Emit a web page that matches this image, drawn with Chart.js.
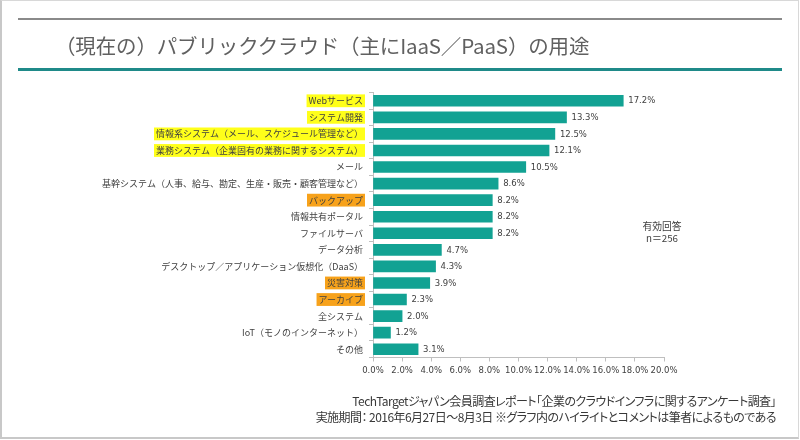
<!DOCTYPE html>
<html>
<head>
<meta charset="utf-8">
<script src="https://cdn.jsdelivr.net/npm/chart.js@4/dist/chart.umd.min.js"></script>
<style>
  body { margin: 0; background: #fff; }
  #frame {
    position: absolute; left: 0; top: 0; width: 796px; height: 436px;
    border-left: 2px solid #c8c8c8; border-bottom: 2px solid #c8c8c8;
    border-top: 1px solid #d8d8d8; border-right: 1px solid #d8d8d8;
  }
  #wrap { position: absolute; left: 0; top: 0; width: 800px; height: 440px; }
  .rule { position: absolute; left: 18px; width: 764px; }
  #grayRule { top: 18px; height: 2px; background: #8a8a8a; }
  #tealRule { top: 68px; height: 3px; background: #1f8a89; }
  #title {
    position: absolute; left: 55px; top: 30px; font-family: 'Noto Sans CJK JP';
    font-size: 20.5px; letter-spacing: -0.15px; color: #606060; white-space: nowrap; line-height: 30px;
  }
  #note {
    position: absolute; left: 630px; top: 220px; width: 64px; text-align: center;
    font-family: 'Noto Sans CJK JP'; font-size: 9.8px; line-height: 12px; color: #404040;
  }
  #footer {
    position: absolute; right: 24px; top: 393px; text-align: right;
    font-family: 'Noto Sans CJK JP'; font-size: 12px; letter-spacing: -0.55px; line-height: 16px; color: #383838;
    white-space: nowrap; font-feature-settings: 'palt';
  }
</style>
</head>
<body>
<div id="frame"></div>
<div id="wrap"><canvas id="bars"></canvas></div>
<div class="rule" id="grayRule"></div>
<div class="rule" id="tealRule"></div>
<div id="title">（現在の）パブリッククラウド（主にIaaS／PaaS）の用途</div>
<div id="note">有効回答<br>n＝256</div>
<div id="footer">TechTargetジャパン会員調査レポート「企業のクラウドインフラに関するアンケート調査」<br>実施期間： 2016年6月27日～8月3日 ※グラフ内のハイライトとコメントは筆者によるものである</div>
<script>
// 用途と回答率(%)
const categories = [
    'Webサービス',
    'システム開発',
    '情報系システム（メール、スケジュール管理など）',
    '業務システム（企業固有の業務に関するシステム）',
    'メール',
    '基幹システム（人事、給与、勘定、生産・販売・顧客管理など）',
    'バックアップ',
    '情報共有ポータル',
    'ファイルサーバ',
    'データ分析',
    'デスクトップ／アプリケーション仮想化（DaaS）',
    '災害対策',
    'アーカイブ',
    '全システム',
    'IoT（モノのインターネット）',
    'その他'
];
const values = [17.2, 13.3, 12.5, 12.1, 10.5, 8.6, 8.2, 8.2, 8.2, 4.7, 4.3, 3.9, 2.3, 2.0, 1.2, 3.1];
const xMin = 0;
const xMax = 20;
const xStep = 2;

// 筆者のハイライト (Y=黄, O=オレンジ)
const marks = ['Y', 'Y', 'Y', 'Y', '', '', 'O', '', '', '', '', 'O', 'O', '', '', ''];
const markColor = { Y: '#ffff1a', O: '#f7a21b', '': 'rgba(0,0,0,0)' };

const valueLabels = {
    id: 'valueLabels',
    afterDatasetsDraw(chart) {
        const ctx = chart.ctx;
        const meta = chart.getDatasetMeta(0);
        ctx.save();
        ctx.font = '8.5px "DejaVu Sans"';
        ctx.fillStyle = '#404040';
        ctx.textBaseline = 'middle';
        meta.data.forEach((bar, i) => {
            ctx.fillText(values[i].toFixed(1) + '%', bar.x + 5, bar.y + 0.5);
        });
        ctx.restore();
    }
};

const ctx = document.getElementById('bars').getContext('2d');
const chart = new Chart(ctx, {
    type: 'bar',
    data: {
        labels: categories,
        datasets: [{
            data: values,
            backgroundColor: '#12a293',
            borderWidth: 0,
            barThickness: 11
        }]
    },
    options: {
        indexAxis: 'y',
        responsive: true,
        maintainAspectRatio: false,
        animation: false,
        layout: { padding: { left: 0, top: 92.5, right: 136, bottom: 52.5 } },
        plugins: {
            legend: { display: false },
            tooltip: { enabled: false }
        },
        scales: {
            x: {
                min: xMin,
                max: xMax,
                afterFit(scale) { scale.height = 30; },
                grid: { drawOnChartArea: false, drawTicks: true, tickLength: 4, color: '#bfbfbf' },
                border: { color: '#bfbfbf' },
                ticks: {
                    stepSize: xStep,
                    autoSkip: false,
                    maxRotation: 0,
                    minRotation: 0,
                    padding: 4,
                    color: '#404040',
                    font: { family: 'DejaVu Sans', size: 8.5 },
                    callback: v => v.toFixed(1) + '%'
                }
            },
            y: {
                afterFit(scale) { scale.width = 373; },
                grid: { drawOnChartArea: false, drawTicks: true, tickLength: 4, offset: true, color: '#bfbfbf' },
                border: { color: '#bfbfbf' },
                ticks: {
                    autoSkip: false,
                    padding: 6,
                    color: '#404040',
                    font: { family: 'Noto Sans CJK JP', size: 9 },
                    showLabelBackdrop: c => marks[c.index] !== '',
                    backdropColor: c => markColor[marks[c.index]],
                    backdropPadding: { x: 2, y: 1 }
                }
            }
        }
    },
    plugins: [valueLabels]
});
</script>
</body>
</html>
